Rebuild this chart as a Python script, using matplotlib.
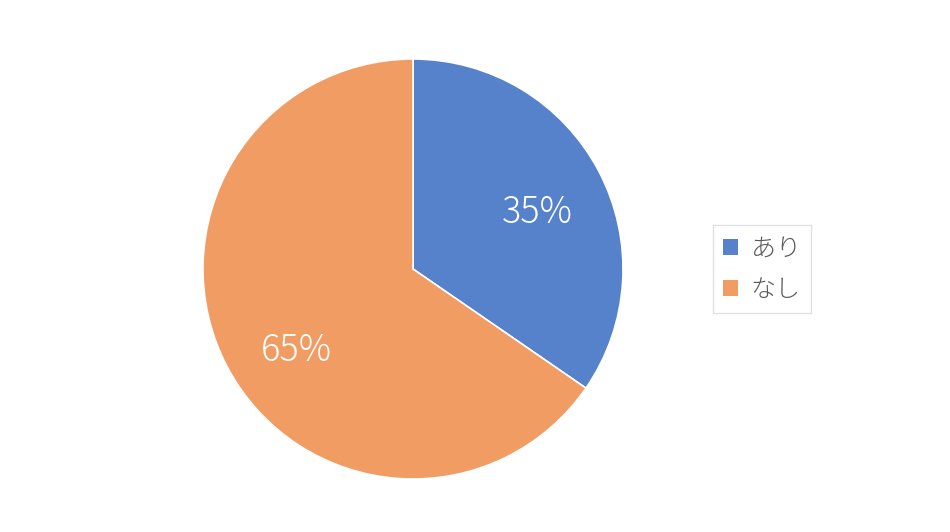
import matplotlib
matplotlib.use("Agg")
import matplotlib.pyplot as plt
from matplotlib.patches import Patch

plt.rcParams['font.family'] = ['Noto Sans CJK JP', 'DejaVu Sans']

labels = ['あり', 'なし']
values = [34.6, 65.4]
colors = ['#5681CB', '#F09C62']

# label placement (layout only): positions in units of the pie radius
label_pos = [(0.59, 0.27), (-0.555, -0.39)]

fig = plt.figure(figsize=(9.5, 5.32), dpi=100)
ax = fig.add_axes([(413 - 210) / 950, (532 - 269 - 210) / 532, 420 / 950, 420 / 532])
wedges, texts, autotexts = ax.pie(
    values, colors=colors, startangle=90, counterclock=False,
    autopct=lambda p: f'{p:.0f}%', pctdistance=0.66,
    wedgeprops=dict(edgecolor='white', linewidth=1.2),
    textprops=dict(color='white', fontsize=26, fontweight='light'))
for t, pos in zip(autotexts, label_pos):
    t.set_position(pos)
ax.set_xlim(-1, 1)
ax.set_ylim(-1, 1)
ax.set_aspect('equal')

handles = [Patch(facecolor=c, edgecolor='none') for c in colors]
leg = fig.legend(handles, labels, loc='center', bbox_to_anchor=(762 / 950, 1 - 269 / 532),
                 frameon=True, fancybox=False, labelcolor='#595959',
                 handlelength=0.6, handleheight=0.6, handletextpad=0.5,
                 labelspacing=0.6, borderpad=0.4, borderaxespad=0,
                 prop=dict(size=18, weight='light'))
leg.get_frame().set_edgecolor('#D9D9D9')
leg.get_frame().set_linewidth(1)

fig.savefig('out.png', dpi=100)
